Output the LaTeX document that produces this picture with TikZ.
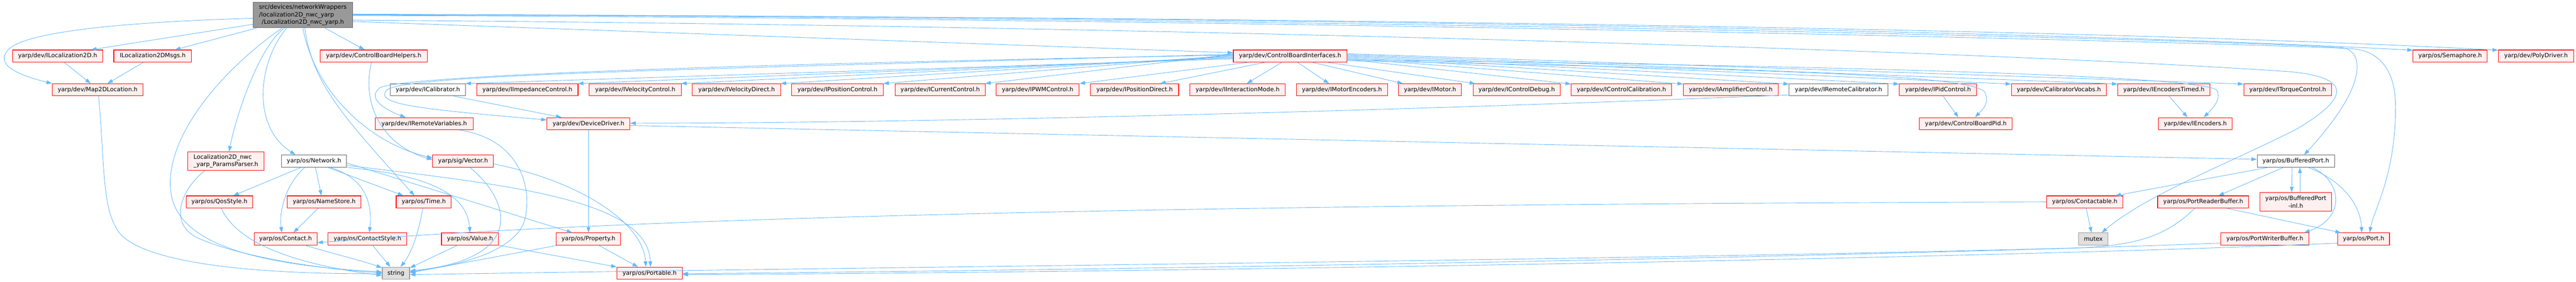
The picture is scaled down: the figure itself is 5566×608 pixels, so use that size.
\documentclass[tikz,border=0pt]{standalone}
\usepackage{fontspec}
\setmainfont{DejaVu Sans}
\usetikzlibrary{arrows.meta}
\definecolor{depblue}{HTML}{63B8FF}
\definecolor{truncred}{HTML}{FF0000}
\definecolor{truncfill}{HTML}{FFF0F0}
\definecolor{plaingray}{HTML}{666666}
\definecolor{maingray}{HTML}{999999}
\definecolor{sysfill}{HTML}{E0E0E0}
\begin{document}
\begin{tikzpicture}[x=1pt,y=-1pt,>={Triangle[length=12pt,width=8pt]},
	every node/.style={font=\fontsize{12.8}{16}\selectfont,inner sep=0pt,minimum height=26,line width=1.2pt},
	redbox/.style={draw=truncred,fill=truncfill},
	whitebox/.style={draw=plaingray,fill=white},
	sysbox/.style={draw=maingray,fill=sysfill},
	mainbox/.style={draw=plaingray,fill=maingray},
	dep/.style={->,draw=depblue,line width=1pt}]
	\useasboundingbox (0,0) rectangle (5566,608);
	\node[mainbox,minimum width=215,minimum height=55] (main) at (654.5,32.5) {\begin{tabular}{@{}l@{}}src/devices/networkWrappers\\/localization2D\_nwc\_yarp\\\multicolumn{1}{@{}c@{}}{/Localization2D\_nwc\_yarp.h}\end{tabular}};
	\node[redbox,minimum width=195] (loc) at (124.5,121) {yarp/dev/ILocalization2D.h};
	\node[redbox,minimum width=168] (locmsgs) at (330,121) {ILocalization2DMsgs.h};
	\node[redbox,minimum width=231] (cbhelpers) at (807.5,121) {yarp/dev/ControlBoardHelpers.h};
	\node[redbox,minimum width=245] (cbinterfaces) at (2787.5,121) {yarp/dev/ControlBoardInterfaces.h};
	\node[redbox,minimum width=160] (semaphore) at (5294,121) {yarp/os/Semaphore.h};
	\node[redbox,minimum width=163] (polydriver) at (5479.5,121) {yarp/dev/PolyDriver.h};
	\node[redbox,minimum width=196] (map2d) at (211,194) {yarp/dev/Map2DLocation.h};
	\node[whitebox,minimum width=163] (icalib) at (924.5,194) {yarp/dev/ICalibrator.h};
	\node[whitebox,minimum width=213] (iremcal) at (3972.5,194) {yarp/dev/IRemoteCalibrator.h};
	\foreach \nm/\cx/\w/\txt in {iimped/1139.5/219/IImpedanceControl,ivelctl/1372.5/199/IVelocityControl,
		iveldir/1591.5/191/IVelocityDirect,iposctl/1809.5/199/IPositionControl,icurctl/2031.5/195/ICurrentControl,
		ipwm/2242/180/IPWMControl,iposdir/2451.5/191/IPositionDirect,iinter/2674/206/IInteractionMode,
		imotenc/2899.5/197/IMotorEncoders,imotor/3090/136/IMotor,icdebug/3277/188/IControlDebug,
		iccalib/3503.5/217/IControlCalibration,iampl/3739.5/205/IAmplifierControl,ipid/4187.5/167/IPidControl,
		calvocab/4448.5/205/CalibratorVocabs,ienctimed/4675.5/199/IEncodersTimed,itorque/4943/190/ITorqueControl}
	\node[redbox,minimum width=\w] (\nm) at (\cx,194) {yarp/dev/\txt.h};
	\node[redbox,minimum width=211] (iremvar) at (916.5,267) {yarp/dev/IRemoteVariables.h};
	\node[redbox,minimum width=179] (devdriver) at (1271.5,267) {yarp/dev/DeviceDriver.h};
	\node[redbox,minimum width=201] (cbpid) at (4247.5,267) {yarp/dev/ControlBoardPid.h};
	\node[redbox,minimum width=159] (iencoders) at (4743.5,267) {yarp/dev/IEncoders.h};
	\node[redbox,minimum width=164,minimum height=40,align=left] (params) at (488,348) {Localization2D\_nwc\\\_yarp\_ParamsParser.h};
	\node[whitebox,minimum width=141] (network) at (678.5,348) {yarp/os/Network.h};
	\node[redbox,minimum width=131] (vector) at (1000.5,348) {yarp/sig/Vector.h};
	\node[whitebox,minimum width=167] (bufport) at (4960.5,348) {yarp/os/BufferedPort.h};
	\node[redbox,minimum width=144] (qos) at (474,436) {yarp/os/QosStyle.h};
	\node[redbox,minimum width=159] (namestore) at (700.5,436) {yarp/os/NameStore.h};
	\node[redbox,minimum width=119] (time) at (915.5,436) {yarp/os/Time.h};
	\node[redbox,minimum width=165] (contactable) at (4504.5,436) {yarp/os/Contactable.h};
	\node[redbox,minimum width=197] (portreader) at (4760.5,436) {yarp/os/PortReaderBuffer.h};
	\node[redbox,minimum width=155,minimum height=40,align=center] (bufportinl) at (4960.5,436) {yarp/os/BufferedPort\\-inl.h};
	\node[redbox,minimum width=136] (contact) at (617,516) {yarp/os/Contact.h};
	\node[redbox,minimum width=170] (contactstyle) at (794,516) {yarp/os/ContactStyle.h};
	\node[redbox,minimum width=123] (value) at (1015.5,516) {yarp/os/Value.h};
	\node[redbox,minimum width=139] (property) at (1271.5,516) {yarp/os/Property.h};
	\node[sysbox,minimum width=64] (mutex) at (4523,516) {mutex};
	\node[redbox,minimum width=191] (portwriter) at (4893.5,516) {yarp/os/PortWriterBuffer.h};
	\node[redbox,minimum width=112] (port) at (5107,516) {yarp/os/Port.h};
	\node[sysbox,minimum width=59] (string) at (855.5,590) {string};
	\node[redbox,minimum width=141] (portable) at (1403.5,590) {yarp/os/Portable.h};
	\draw[dep] ([yshift=-20]main.west) -- ([xshift=72]loc.north);
	\draw[dep] ([xshift=-100]main.south) -- ([xshift=48]locmsgs.north);
	\draw[dep] ([yshift=-7]main.west) .. controls (250,48) and (60,70) .. (20,105) .. controls (-15,140) and (40,162) .. (map2d.north west);
	\draw[dep] ([xshift=48]main.south) -- ([xshift=-20]cbhelpers.north);
	\draw[dep] ([xshift=-40]main.south) .. controls (560,100) and (510,250) .. ([xshift=7]params.north);
	\draw[dep] ([xshift=-45]main.south) .. controls (480,150) and (350,300) .. (370,420) .. controls (390,540) and (600,575) .. ([yshift=3]string.west);
	\draw[dep] ([xshift=-35]main.south) .. controls (560,130) and (540,270) .. ([xshift=-40]network.north);
	\draw[dep] (main.south) .. controls (680,200) and (800,310) .. ([yshift=7]vector.west);
	\draw[dep] ([xshift=4]main.south) .. controls (675,180) and (740,250) .. ([xshift=-20]time.north);
	\draw[dep] ([yshift=-14]main.east) -- ([yshift=7]cbinterfaces.west);
	\draw[dep] ([yshift=2]main.east) .. controls (2500,36) and (4300,60) .. ([yshift=-1]semaphore.north west);
	\draw[dep] (main.east) .. controls (2600,34) and (4500,60) .. ([yshift=-1]polydriver.north west);
	\draw[dep] ([yshift=1]main.east) .. controls (2600,36) and (4700,80) .. (5060,103) .. controls (5100,106) and (5130,170) .. ([xshift=18]bufport.north);
	\draw[dep] ([yshift=-1]main.east) .. controls (2600,38) and (4700,88) .. (5080,105) .. controls (5140,109) and (5176,150) .. (5176,230) .. controls (5176,380) and (5130,450) .. ([xshift=13]port.north);
	\draw[dep] ([yshift=-11]main.east) .. controls (2500,55) and (4300,110) .. (4950,155) .. controls (5080,168) and (5080,210) .. (4960,280) .. controls (4800,360) and (4640,420) .. ([xshift=18]mutex.north);
	\draw[dep] ([xshift=-5]cbhelpers.south) .. controls (780,230) and (830,315) .. ([yshift=3]vector.west);
	\draw[dep] ([xshift=14]loc.south) -- ([xshift=-15]map2d.north);
	\draw[dep] ([xshift=-20]locmsgs.south) -- ([xshift=21]map2d.north);
	\draw[dep] ([xshift=2]map2d.south) .. controls (225,330) and (220,440) .. (250,490) .. controls (280,560) and (500,592) .. ([yshift=-1]string.west);
	\draw[dep] ([xshift=-46]params.south) .. controls (380,420) and (370,490) .. (430,515) .. controls (520,555) and (700,582) .. ([yshift=1]string.west);
	\draw[dep] ([xshift=4]qos.south) .. controls (510,520) and (620,568) .. ([yshift=-5]string.west);
	\draw[dep] ([xshift=42]contact.south) .. controls (720,548) and (790,565) .. ([yshift=-2]string.north west);
	\draw[dep] ([xshift=11]contactstyle.south) -- ([xshift=-12]string.north);
	\draw[dep] ([xshift=-2]time.south) .. controls (905,500) and (890,545) .. ([xshift=10]string.north);
	\draw[dep] ([xshift=-27]value.south) -- ([yshift=-2]string.north east);
	\draw[dep] ([xshift=15]vector.south) .. controls (1110,440) and (1130,560) .. ([yshift=5]string.east);
	\draw[dep] ([xshift=76]iremvar.south) .. controls (1120,300) and (1150,400) .. (1135,470) .. controls (1120,540) and (1000,572) .. ([yshift=3]string.east);
	\draw[dep] ([xshift=-66]property.south) -- ([yshift=1]string.east);
	\draw[dep] ([xshift=22]property.south) -- ([xshift=-25]portable.north);
	\draw[dep] (value.south east) -- (portable.north west);
	\draw[dep] ([yshift=-6]vector.east) .. controls (1250,390) and (1390,480) .. ([xshift=-8]portable.north);
	\draw[dep] ([yshift=-9]network.east) .. controls (1100,400) and (1400,430) .. ([xshift=2]portable.north);
	\draw[dep] ([yshift=-4]network.east) -- ([xshift=-35]property.north);
	\draw[dep] ([xshift=30]network.south) -- ([xshift=-44]time.north);
	\draw[dep] ([xshift=35]network.south) .. controls (790,385) and (805,440) .. ([xshift=4]contactstyle.north);
	\draw[dep] (network.south east) .. controls (950,380) and (1010,430) .. (value.north);
	\draw[dep] ([xshift=-28]network.south) -- ([xshift=30]qos.north);
	\draw[dep] ([xshift=-20]network.south) .. controls (615,400) and (603,460) .. ([xshift=-8]contact.north);
	\draw[dep] ([xshift=3]network.south) -- ([xshift=-6]namestore.north);
	\draw[dep] ([xshift=-13]namestore.south) -- ([xshift=17]contact.north);
	\draw[dep] (contactable.west) .. controls (3000,440) and (1500,458) .. ([yshift=-8]contact.east);
	\foreach \nm/\dy in {icalib/-6,iimped/-4,ivelctl/-2,iveldir/0,iposctl/2,icurctl/4}
	\draw[dep] ([yshift=\dy]cbinterfaces.west) -- ([xshift=-1]\nm.north east);
	\draw[dep] ([xshift=-90]cbinterfaces.south) -- (ipwm.north east);
	\draw[dep] ([xshift=-54]cbinterfaces.south) -- ([xshift=-41]iposdir.north east);
	\draw[dep] ([xshift=-18]cbinterfaces.south) -- ([xshift=20]iinter.north);
	\draw[dep] ([xshift=16]cbinterfaces.south) -- ([xshift=-28]imotenc.north);
	\draw[dep] ([xshift=48]cbinterfaces.south) -- ([xshift=10]imotor.north west);
	\draw[dep] ([xshift=80]cbinterfaces.south) -- ([xshift=5]icdebug.north west);
	\foreach \nm/\dy in {iccalib/-7,iampl/-5,iremcal/-3,ipid/-1,calvocab/1,ienctimed/3,itorque/5}
	\draw[dep] ([yshift=\dy]cbinterfaces.east) -- ([yshift=-1]\nm.north west);
	\draw[dep] ([yshift=2]cbinterfaces.west) .. controls (1500,140) and (860,165) .. (820,190) .. controls (790,215) and (840,240) .. ([xshift=-40]iremvar.north);
	\draw[dep] ([yshift=4]cbinterfaces.west) .. controls (1500,150) and (870,160) .. (835,195) .. controls (810,225) and (900,235) .. ([yshift=8]devdriver.west);
	\draw[dep] ([yshift=-10]cbinterfaces.east) .. controls (3800,150) and (4270,160) .. (4289,200) .. controls (4300,225) and (4280,240) .. ([xshift=20]cbpid.north);
	\draw[dep] ([yshift=-8]cbinterfaces.east) .. controls (3800,140) and (4760,160) .. (4790,195) .. controls (4800,215) and (4780,235) .. ([xshift=18]iencoders.north);
	\draw[dep] ([xshift=11]ipid.south) -- ([xshift=-16]cbpid.north);
	\draw[dep] ([xshift=11]ienctimed.south) -- ([xshift=-17]iencoders.north);
	\draw[dep] ([xshift=56]icalib.south) -- ([xshift=-58]devdriver.north);
	\draw[dep] ([yshift=-11]iremcal.west) .. controls (3000,240) and (2000,266) .. ([yshift=1]devdriver.east);
	\draw[dep] ([yshift=-4]devdriver.east) -- ([yshift=4]bufport.west);
	\draw[dep] (devdriver.south) -- (property.north);
	\draw[dep] ([xshift=-8]bufport.south) -- ([xshift=-9]bufportinl.north);
	\draw[dep] ([xshift=9]bufportinl.north) -- ([xshift=9]bufport.south);
	\draw[dep] ([xshift=-60]bufport.south) -- ([xshift=66]contactable.north);
	\draw[dep] ([xshift=-27]bufport.south) -- ([xshift=33]portreader.north);
	\draw[dep] ([xshift=35]bufport.south) .. controls (5060,390) and (5070,470) .. ([xshift=85]portwriter.north);
	\draw[dep] ([xshift=27]bufport.south) .. controls (5060,390) and (5100,440) .. ([xshift=-4]port.north);
	\draw[dep] ([xshift=50]portreader.south) -- ([xshift=-49]port.north);
	\draw[dep] ([xshift=3]contactable.south) -- ([xshift=-4]mutex.north);
	\draw[dep] ([xshift=-18]portreader.south) .. controls (4680,510) and (4620,528) .. (4500,535) .. controls (3500,562) and (2000,575) .. ([yshift=-3]string.east);
	\draw[dep] ([yshift=-9]portwriter.west) .. controls (4000,555) and (2500,582) .. ([yshift=-1]portable.east);
	\draw[dep] ([yshift=-9]port.west) .. controls (4300,558) and (2500,588) .. ([yshift=-3]portable.east);
\end{tikzpicture}
\end{document}
